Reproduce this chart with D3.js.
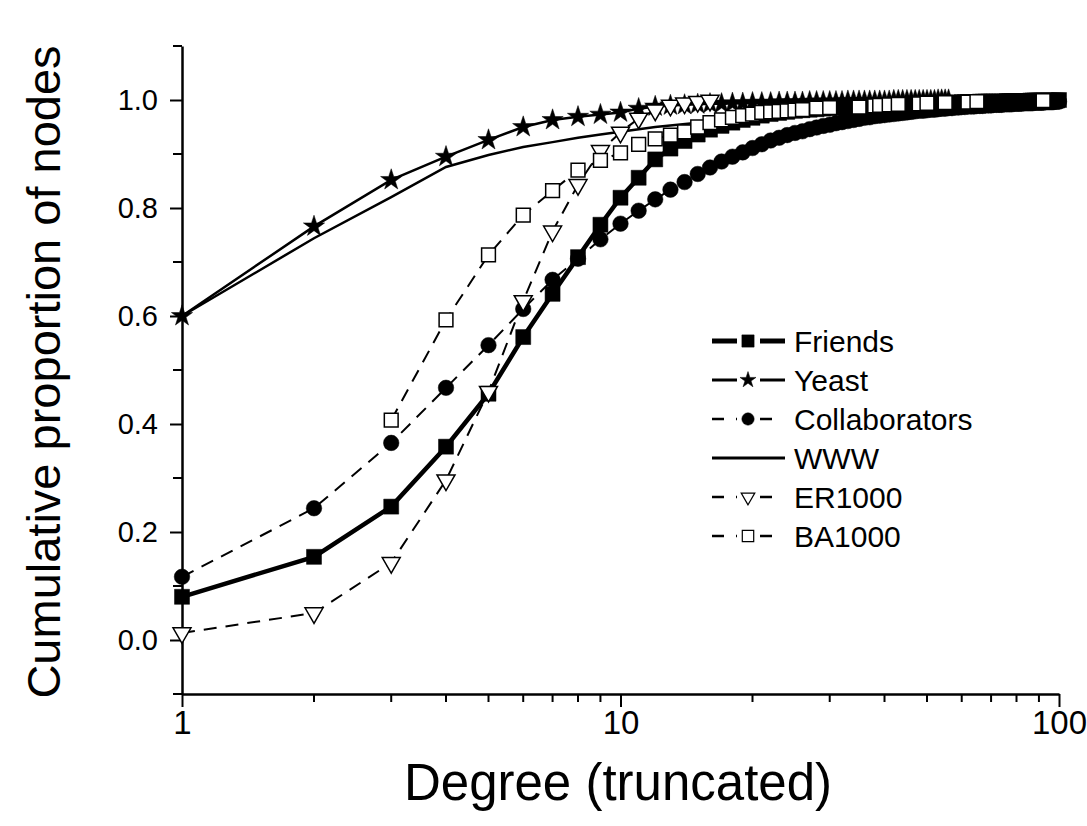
<!DOCTYPE html>
<html>
<head>
<meta charset="utf-8">
<title>Cumulative degree distribution</title>
<script src="https://d3js.org/d3.v7.min.js"></script>
<style>
  body { margin: 0; background: #fff; }
  text { font-family: "Liberation Sans", Arial, sans-serif; fill: #000; }
</style>
</head>
<body>
<svg id="chart" width="1087" height="826"></svg>
<script>
// degree (x) and cumulative proportion (y)
var friendsDeg = [1,2,3,4,5,6,7,8,9,10,11,12,13,14,15,16,17,18,19,20,
  21,22,23,24,25,26,27,28,29,30,31,32,33,34,35,36,37,38,39,40,
  41,42,43,44,45,46,47,48,49,50,51,52,53,54,55,56,57,58,59,60,
  61,62,63,64,65,66,67,68,69,70,71,72,73,74,75,76,77,78,79,80,
  81,82,83,84,85,86,87,88,89,90,91,92,93,94,95,96,97,98,99,100];
var friendsVal = [0.080,0.154,0.247,0.358,0.456,0.561,0.641,0.709,0.769,0.819,
  0.856,0.890,0.910,0.924,0.936,0.945,0.952,0.958,0.963,0.967,
  0.971,0.974,0.976,0.978,0.980,0.981,0.982,0.983,0.984,0.985,
  0.986,0.986,0.987,0.987,0.988,0.988,0.989,0.989,0.990,0.990,
  0.990,0.991,0.991,0.991,0.992,0.992,0.992,0.993,0.993,0.993,
  0.994,0.994,0.994,0.994,0.995,0.995,0.995,0.995,0.995,0.996,
  0.996,0.996,0.996,0.996,0.996,0.997,0.997,0.997,0.997,0.997,
  0.997,0.997,0.997,0.997,0.997,0.998,0.998,0.998,0.998,0.998,
  0.998,0.998,0.998,0.998,0.998,0.999,0.999,0.999,0.999,0.999,
  0.999,0.999,0.999,0.999,0.999,0.999,0.999,0.999,0.999,1.000];

var yeastDeg = [1,2,3,4,5,6,7,8,9,10,11,12,13,14,15,16,17,18,19,20,
  21,22,23,24,25,26,27,28,29,30,31,32,33,34,35,36,37,38,39,40,
  41,42,43,44,45,46,47,48,49,50,51,52,53,54,55,56];
var yeastVal = [0.600,0.766,0.852,0.895,0.926,0.950,0.963,0.969,0.973,0.977,
  0.984,0.988,0.990,0.991,0.992,0.993,0.993,0.994,0.994,0.995,
  0.995,0.995,0.996,0.996,0.996,0.996,0.997,0.997,0.997,0.997,
  0.997,0.997,0.998,0.998,0.998,0.998,0.998,0.998,0.998,0.998,
  0.998,0.999,0.999,0.999,0.999,0.999,0.999,0.999,0.999,0.999,
  0.999,0.999,1.000,1.000,1.000,1.000];

var collabDeg = [1,2,3,4,5,6,7,8,9,10,11,12,13,14,15,16,17,18,19,20,
  21,22,23,24,25,26,27,28,29,30,31,32,33,34,35,36,37,38,39,40,
  41,42,43,44,45,46,47,48,49,50,51,52,53,54,55,56,57,58,59,60,
  61,62,63,64,65,66,67,68,69,70,71,72,73,74,75,76,77,78,79,80,
  81,82,83,84,85,86,87,88,89,90,91,92,93,94,95,96,97,98,99,100];
var collabVal = [0.117,0.244,0.365,0.467,0.546,0.613,0.667,0.706,0.742,0.771,
  0.795,0.816,0.834,0.848,0.863,0.875,0.886,0.895,0.903,0.911,
  0.918,0.925,0.930,0.935,0.939,0.942,0.946,0.949,0.952,0.954,
  0.957,0.959,0.961,0.963,0.965,0.967,0.968,0.970,0.971,0.972,
  0.973,0.974,0.975,0.976,0.977,0.978,0.979,0.980,0.980,0.981,
  0.982,0.982,0.983,0.984,0.984,0.985,0.985,0.986,0.986,0.987,
  0.987,0.988,0.988,0.988,0.989,0.989,0.989,0.990,0.990,0.990,
  0.991,0.991,0.991,0.991,0.992,0.992,0.992,0.992,0.993,0.993,
  0.993,0.993,0.994,0.994,0.994,0.994,0.994,0.995,0.995,0.995,
  0.995,0.995,0.996,0.996,0.996,0.996,0.996,0.997,0.997,0.997];

var wwwDeg = [1,2,3,4,5,6,7,8,9,10,12,15,20,30,40,50,70,100];
var wwwVal = [0.600,0.744,0.820,0.876,0.898,0.913,0.922,0.930,0.936,0.941,
  0.950,0.958,0.967,0.978,0.985,0.989,0.994,0.998];

var erDeg = [1,2,3,4,5,6,7,8,9,10,11,12,13,14,15,16];
var erVal = [0.013,0.050,0.143,0.296,0.460,0.628,0.757,0.843,0.906,0.940,
  0.966,0.981,0.990,0.994,0.997,0.999];

var baDeg = [3,4,5,6,7,8,9,10,11,12,13,14,15,16,17,18,19,20,21,22,23,24,25,26,
  28,30,35,38,39,41,43,48,50,55,62,65,92];
var baVal = [0.407,0.593,0.713,0.787,0.832,0.870,0.888,0.902,0.918,0.928,
  0.935,0.941,0.950,0.958,0.963,0.968,0.971,0.974,0.977,0.978,0.979,0.980,
  0.981,0.982,0.985,0.986,0.987,0.989,0.990,0.991,0.992,0.993,0.994,0.995,
  0.996,0.997,0.999];

var xTicks = [1, 10, 100];
var yTicks = [0.0, 0.2, 0.4, 0.6, 0.8, 1.0];

var svg = d3.select("#chart");

var x = d3.scaleLog().domain([1, 100]).range([182, 1059]);
var y = d3.scaleLinear().domain([-0.1, 1.1]).range([694, 46]);

var zip = function(xs, ys) { return xs.map(function(d, i) { return [d, ys[i]]; }); };

var series = [
  {name: "Friends", data: zip(friendsDeg, friendsVal), width: 4.5, dash: null,
    sym: d3.symbolSquare, size: 225, fill: "#000", rot: 0, lsize: 150},
  {name: "Yeast", data: zip(yeastDeg, yeastVal), width: 2.5, dash: null,
    sym: d3.symbolStar, size: 140, fill: "#000", rot: 0, lsize: 80},
  {name: "Collaborators", data: zip(collabDeg, collabVal), width: 2, dash: "13,9",
    sym: d3.symbolCircle, size: 190, fill: "#000", rot: 0, lsize: 120},
  {name: "WWW", data: zip(wwwDeg, wwwVal), width: 2.5, dash: null,
    sym: null},
  {name: "ER1000", data: zip(erDeg, erVal), width: 2, dash: "13,9",
    sym: d3.symbolTriangle, size: 140, fill: "#fff", rot: 180, lsize: 80},
  {name: "BA1000", data: zip(baDeg, baVal), width: 2, dash: "13,9",
    sym: d3.symbolSquare, size: 190, fill: "#fff", rot: 0, lsize: 130}
];

// axes
var xAxis = d3.axisBottom(x).tickValues(xTicks).tickFormat(d3.format("d"))
  .tickSizeInner(13).tickSizeOuter(0).tickPadding(4);
var gx = svg.append("g").attr("transform", "translate(0,694)").call(xAxis);
var xMinor = [2,3,4,5,6,7,8,9,20,30,40,50,60,70,80,90];
gx.selectAll(".minor").data(xMinor).enter().append("line")
  .attr("x1", d => x(d)).attr("x2", d => x(d))
  .attr("y1", 0).attr("y2", 8).attr("stroke", "#000").attr("stroke-width", 2);

var yAxis = d3.axisLeft(y).tickValues(yTicks).tickFormat(d3.format(".1f"))
  .tickSizeInner(12).tickSizeOuter(0).tickPadding(12);
var gy = svg.append("g").attr("transform", "translate(182,0)").call(yAxis);
var yMinor = [-0.1, 0.1, 0.3, 0.5, 0.7, 0.9, 1.1];
gy.selectAll(".minor").data(yMinor).enter().append("line")
  .attr("x1", -9).attr("x2", 0)
  .attr("y1", d => y(d)).attr("y2", d => y(d))
  .attr("stroke", "#000").attr("stroke-width", 2);

[gx, gy].forEach(function(g) {
  g.select(".domain").attr("stroke-width", 2.5);
  g.selectAll(".tick line").attr("stroke-width", 2);
});
gx.selectAll(".tick text").style("font-size", "33px");
gy.selectAll(".tick text").style("font-size", "29px");

// axis titles
svg.append("text")
  .attr("x", 618).attr("y", 800)
  .attr("text-anchor", "middle")
  .style("font-size", "51px")
  .text("Degree (truncated)");

svg.append("text")
  .attr("transform", "translate(60,372) rotate(-90)")
  .attr("text-anchor", "middle")
  .style("font-size", "47px")
  .text("Cumulative proportion of nodes");

// lines
var line = d3.line().x(d => x(d[0])).y(d => y(d[1]));
var plot = svg.append("g");
series.forEach(function(s) {
  plot.append("path")
    .datum(s.data)
    .attr("d", line)
    .attr("fill", "none")
    .attr("stroke", "#000")
    .attr("stroke-width", s.width)
    .attr("stroke-dasharray", s.dash);
});

// markers
series.forEach(function(s) {
  if (!s.sym) return;
  plot.append("g").selectAll("path")
    .data(s.data)
    .enter().append("path")
    .attr("d", d3.symbol().type(s.sym).size(s.size))
    .attr("transform", d => "translate(" + x(d[0]) + "," + y(d[1]) + ") rotate(" + s.rot + ")")
    .attr("fill", s.fill)
    .attr("stroke", "#000")
    .attr("stroke-width", s.fill === "#fff" ? 1.5 : 0.5);
});

// legend
var legend = svg.append("g").attr("transform", "translate(712,341)");
var rows = legend.selectAll("g").data(series).enter().append("g")
  .attr("transform", (d, i) => "translate(0," + (i * 39) + ")");

rows.append("line")
  .attr("x1", 0).attr("x2", d => d.dash ? 60 : 73)
  .attr("y1", 0).attr("y2", 0)
  .attr("stroke", "#000")
  .attr("stroke-width", d => d.width + 0.5)
  .attr("stroke-dasharray", d => d.dash ? "12,12" : null);

rows.filter(d => d.sym).append("rect")
  .attr("x", 25).attr("y", -10).attr("width", 23).attr("height", 20)
  .attr("fill", "#fff");

rows.filter(d => d.sym).append("path")
  .attr("d", d => d3.symbol().type(d.sym).size(d.lsize)())
  .attr("transform", d => "translate(36,0) rotate(" + d.rot + ")")
  .attr("fill", d => d.fill)
  .attr("stroke", "#000")
  .attr("stroke-width", d => d.fill === "#fff" ? 1.2 : 0.5);

rows.append("text")
  .attr("x", 82).attr("y", 0).attr("dy", "0.36em")
  .style("font-size", "30px")
  .text(d => d.name);
</script>
</body>
</html>
